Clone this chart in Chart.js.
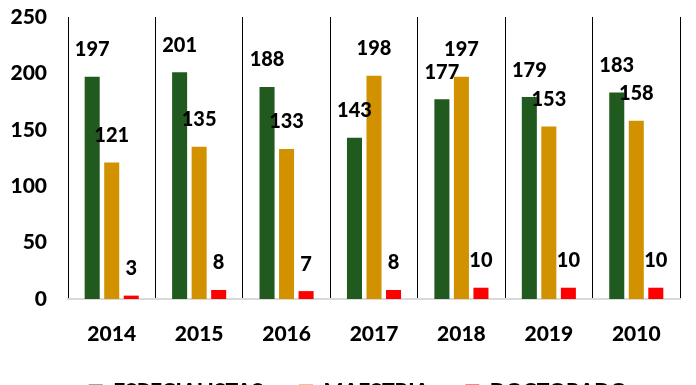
<!DOCTYPE html>
<html>
<head>
<meta charset="utf-8">
<script src="https://cdn.jsdelivr.net/npm/chart.js@4/dist/chart.umd.min.js"></script>
<style>
html,body{margin:0;padding:0;background:#fff;overflow:hidden;width:696px;height:385px;}
canvas{display:block;}
</style>
</head>
<body>
<canvas id="c" width="696" height="412"></canvas>
<script>
const categories = ["2014","2015","2016","2017","2018","2019","2010"];
const especialistas = [197, 201, 188, 143, 177, 179, 183];
const maestria = [121, 135, 133, 198, 197, 153, 158];
const doctorado = [3, 8, 7, 8, 10, 10, 10];
const seriesNames = ["ESPECIALISTAS", "MAESTRIA", "DOCTORADO"];
const yTicks = [0, 50, 100, 150, 200, 250];

const FONT = "Lato";
const WEIGHT = "900";

const valueLabels = {
  id: "valueLabels",
  afterDatasetsDraw(chart) {
    const ctx = chart.ctx;
    ctx.save();
    ctx.font = WEIGHT + " 20px " + FONT;
    ctx.fillStyle = "#000";
    ctx.textAlign = "center";
    ctx.textBaseline = "middle";
    chart.data.datasets.forEach((ds, i) => {
      const meta = chart.getDatasetMeta(i);
      meta.data.forEach((el, j) => {
        ctx.fillText(String(ds.data[j]), el.x, el.y - 27);
      });
    });
    ctx.restore();
  }
};

const legendShift = {
  id: "legendShift",
  afterLayout(chart) {
    const lg = chart.legend;
    if (lg) { lg.left += 18; lg.right += 18; }
  }
};

new Chart(document.getElementById("c"), {
  type: "bar",
  data: {
    labels: categories,
    datasets: [
      { label: seriesNames[0], data: especialistas, backgroundColor: "#215a1e" },
      { label: seriesNames[1], data: maestria, backgroundColor: "#d29200" },
      { label: seriesNames[2], data: doctorado, backgroundColor: "#ff0000" }
    ]
  },
  options: {
    responsive: false,
    animation: false,
    devicePixelRatio: 1,
    categoryPercentage: 0.67,
    barPercentage: 0.77,
    layout: { padding: { top: 17, right: 16, left: 0, bottom: 0 } },
    plugins: {
      tooltip: { enabled: false },
      legend: {
        position: "bottom",
        labels: {
          color: "#000",
          font: { family: FONT, size: 21, weight: WEIGHT },
          boxWidth: 14,
          boxHeight: 14,
          padding: 36
        }
      }
    },
    scales: {
      x: {
        grid: { display: true, color: "#000", lineWidth: 1, drawTicks: false, offset: true },
        border: { display: true, color: "#d9d9d9", width: 2 },
        ticks: { color: "#000", font: { family: FONT, size: 21, weight: WEIGHT }, padding: 23 },
        afterFit(s) { s.height = s.chart.height - 299 - s.chart.legend.height; }
      },
      y: {
        min: 0, max: 250,
        afterBuildTicks(s) { s.ticks = yTicks.map(v => ({ value: v })); },
        grid: { display: false, drawTicks: false },
        border: { display: false },
        ticks: { color: "#000", font: { family: FONT, size: 21, weight: WEIGHT }, padding: 21 },
        afterFit(s) { s.width = 68; s.paddingTop = 13; s.paddingBottom = 13; }
      }
    }
  },
  plugins: [valueLabels, legendShift]
});
</script>
</body>
</html>
